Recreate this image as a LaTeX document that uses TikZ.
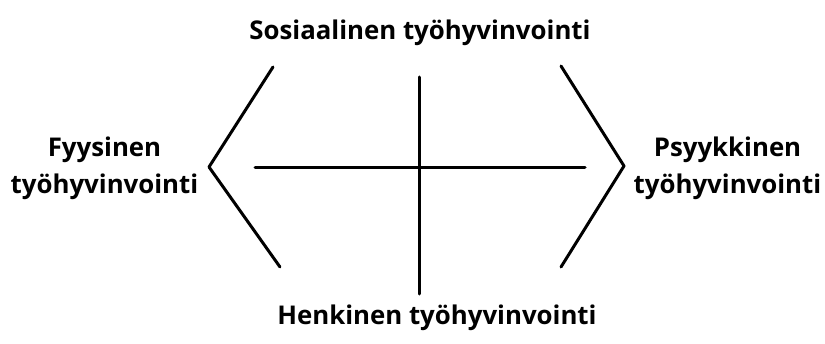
\documentclass[tikz,border=0pt]{standalone}
\usepackage{fontspec}
\setmainfont{Open Sans}
\begin{document}
\begin{tikzpicture}[x=1pt,y=1pt,
  lbl/.style={font=\fontsize{25.8}{37}\selectfont\bfseries, inner sep=0pt, anchor=base},
  stroke/.style={line width=3pt, line cap=round, line join=round}]
\useasboundingbox (0,0) rectangle (825,343);
% labels
\node[lbl] (sos) at (420,303) {Sosiaalinen työhyvinvointi};
\node[lbl] (hen) at (437,19) {Henkinen työhyvinvointi};
\node[lbl] (fys1) at (104.5,186) {Fyysinen};
\node[lbl] (fys2) at (104.5,149) {työhyvinvointi};
\node[lbl] (psy1) at (727.5,186) {Psyykkinen};
\node[lbl] (psy2) at (727.5,149) {työhyvinvointi};
% bracket and cross points
\coordinate (lt) at (273,276);
\coordinate (lv) at (209,176);
\coordinate (lb) at (280,76);
\coordinate (rt) at (561,277);
\coordinate (rv) at (624,177);
\coordinate (rb) at (561,76);
\coordinate (hl) at (255,175);
\coordinate (hr) at (585,175);
\coordinate (vt) at (419,266);
\coordinate (vb) at (419,49);
\draw[stroke] (lt) -- (lv) -- (lb);
\draw[stroke] (rt) -- (rv) -- (rb);
\draw[stroke] (hl) -- (hr);
\draw[stroke] (vt) -- (vb);
\end{tikzpicture}
\end{document}
